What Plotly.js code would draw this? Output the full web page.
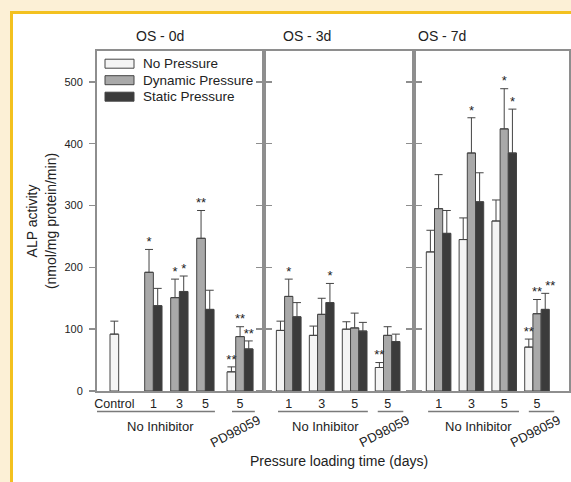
<!DOCTYPE html>
<html>
<head>
<meta charset="utf-8">
<script src="https://cdn.plot.ly/plotly-3.0.1.min.js"></script>
<style>
  html, body { margin:0; padding:0; background:#fcf0d6; width:571px; height:482px; overflow:hidden; }
  #frame { position:absolute; left:10px; top:11px; right:0; bottom:0; background:#ffffff;
           border-left:3px solid #f3c11f; border-top:3px solid #f3c11f; }
  #chart { position:absolute; left:0; top:0; width:571px; height:482px; }
</style>
</head>
<body>
<div id="frame"></div>
<div id="chart"></div>
<script>
// ---------------- DATA ----------------
const panelTitles = ['OS - 0d', 'OS - 3d', 'OS - 7d'];
const seriesNames = ['No Pressure', 'Dynamic Pressure', 'Static Pressure'];

const cats0d = ['Control', '1', '3', '5', '5'];
const cats3d = ['1', '3', '5', '5'];
const cats7d = ['1', '3', '5', '5'];

// OS - 0d
const noPressure0d    = [92, null, null, null, 31];
const dynamic0d       = [null, 192, 151, 247, 88];
const static0d        = [null, 138, 161, 132, 68];
const noPressureErr0d = [21, null, null, null, 8];
const dynamicErr0d    = [null, 37, 30, 45, 16];
const staticErr0d     = [null, 28, 25, 31, 13];
const noPressureSig0d = ['', '', '', '', '**'];
const dynamicSig0d    = ['', '*', '*', '**', '**'];
const staticSig0d     = ['', '', '*', '', '**'];

// OS - 3d
const noPressure3d    = [98, 90, 100, 38];
const dynamic3d       = [153, 124, 102, 90];
const static3d        = [120, 143, 97, 80];
const noPressureErr3d = [15, 15, 12, 8];
const dynamicErr3d    = [28, 26, 24, 14];
const staticErr3d     = [23, 31, 14, 12];
const noPressureSig3d = ['', '', '', '**'];
const dynamicSig3d    = ['*', '', '', ''];
const staticSig3d     = ['', '*', '', ''];

// OS - 7d
const noPressure7d    = [225, 245, 275, 71];
const dynamic7d       = [295, 385, 424, 125];
const static7d        = [255, 306, 385, 132];
const noPressureErr7d = [35, 35, 34, 13];
const dynamicErr7d    = [55, 57, 65, 23];
const staticErr7d     = [37, 47, 71, 26];
const noPressureSig7d = ['', '', '', '**'];
const dynamicSig7d    = ['', '*', '*', '**'];
const staticSig7d     = ['', '', '*', '**'];

const yTicks = [0, 100, 200, 300, 400, 500];
const groupLabelNI = 'No Inhibitor';
const groupLabelPD = 'PD98059';

// ---------------- LAYOUT CONFIG ----------------
const W = 571, H = 482;
const M = { l: 97, r: 2, t: 51, b: 91 };
const plotW = W - M.l - M.r, plotH = H - M.t - M.b;
const pxX = px => (px - M.l) / plotW;
const pxY = py => (H - M.b - py) / plotH;
const YMAX = 550;
const pxPerUnitY = plotH / YMAX;

const fills = ['#f4f4f4', '#a9a9a9', '#3b3b3b'];
const outline = '#444444';
const axisColor = '#8e8e8e';
const textColor = '#222222';
const FONT = 'Liberation Sans, Arial, Helvetica, sans-serif';
const offsets = [-1.5, -0.5, 0.5];

const panels = [
  { cats: cats0d, vals: [noPressure0d, dynamic0d, static0d],
    errs: [noPressureErr0d, dynamicErr0d, staticErr0d],
    sigs: [noPressureSig0d, dynamicSig0d, staticSig0d],
    pos: [3, 6, 9, 12, 16.5], range: [0, 19.26], dom: [pxX(97), pxX(264)],
    ni: [-0.58, 13.6], niX: 7.27, pd: [15.57, 18.2], pdX: 15.9, titlePx: 160 },
  { cats: cats3d, vals: [noPressure3d, dynamic3d, static3d],
    errs: [noPressureErr3d, dynamicErr3d, staticErr3d],
    sigs: [noPressureSig3d, dynamicSig3d, staticSig3d],
    pos: [3, 7, 11, 15], range: [0, 18.2], dom: [pxX(264), pxX(414)],
    ni: [1.7, 12.6], niX: 7.5, pd: [13.8, 16.9], pdX: 14.5, titlePx: 307 },
  { cats: cats7d, vals: [noPressure7d, dynamic7d, static7d],
    errs: [noPressureErr7d, dynamicErr7d, staticErr7d],
    sigs: [noPressureSig7d, dynamicSig7d, staticSig7d],
    pos: [3, 7, 11, 15], range: [0, 18.9], dom: [pxX(414), pxX(569)],
    ni: [1.72, 12.8], niX: 7.9, pd: [14.0, 17.1], pdX: 14.7, titlePx: 442 }
];

const traces = [];
const layout = {
  width: W, height: H, margin: M,
  paper_bgcolor: 'rgba(0,0,0,0)', plot_bgcolor: 'rgba(0,0,0,0)',
  barmode: 'overlay', showlegend: false,
  font: { family: FONT, color: textColor, size: 12 },
  annotations: [], shapes: []
};

panels.forEach((p, i) => {
  const sfx = i === 0 ? '' : String(i + 1);
  const xa = 'x' + sfx, ya = 'y' + sfx;
  const tops = p.vals.map((vals, s) => vals.map((v, k) => v == null ? null : v + p.errs[s][k]));
  p.vals.forEach((vals, s) => {
    traces.push({
      type: 'bar', name: seriesNames[s], x: p.pos, y: vals,
      offset: offsets[s], width: 1, xaxis: xa, yaxis: ya,
      marker: { color: fills[s], line: { color: outline, width: 1 } },
      error_y: { type: 'data', symmetric: false, array: p.errs[s],
                 arrayminus: p.errs[s].map(() => 0),
                 color: outline, thickness: 1, width: 4 },
      hoverinfo: 'skip'
    });
    // significance marks; nudge a double mark right when the neighbour's mark sits close above it
    const tpos = p.sigs[s].map((t, k) => {
      if (s === 2 && t.length > 1 && p.sigs[1][k].length > 1 &&
          Math.abs(tops[1][k] - tops[2][k]) * pxPerUnitY < 12) return 'top right';
      return 'top center';
    });
    traces.push({
      type: 'scatter', mode: 'text', xaxis: xa, yaxis: ya,
      x: p.pos.map(c => c + offsets[s] + 0.5),
      y: tops[s],
      text: p.sigs[s], textposition: tpos,
      textfont: { size: 13, color: textColor, family: FONT },
      cliponaxis: false, hoverinfo: 'skip'
    });
  });
  // tick positions: centre of the bars present in each group
  const tickvals = p.pos.map((c, k) => {
    const cs = [];
    p.vals.forEach((vals, s) => { if (vals[k] != null) cs.push(c + offsets[s] + 0.5); });
    return cs.reduce((a, b) => a + b, 0) / cs.length;
  });
  layout['xaxis' + sfx] = {
    domain: p.dom, range: p.range, anchor: ya,
    showline: true, linecolor: axisColor, linewidth: 2, mirror: true,
    ticks: '', tickvals: tickvals, ticktext: p.cats,
    tickfont: { size: 12.5, color: textColor, family: FONT },
    showgrid: false, zeroline: false, fixedrange: true
  };
  layout['yaxis' + sfx] = {
    domain: [0, 1], range: [0, YMAX], anchor: xa,
    showline: true, linecolor: axisColor, linewidth: 2, mirror: 'ticks',
    ticks: 'outside', ticklen: 6, tickwidth: 1.5, tickcolor: axisColor,
    tickvals: yTicks, showticklabels: i === 0, ticklabelstandoff: 4,
    tickfont: { size: 11, color: textColor, family: FONT },
    showgrid: false, zeroline: false, fixedrange: true
  };
  // group brackets
  [p.ni, p.pd].forEach(seg => layout.shapes.push({
    type: 'line', xref: xa, yref: 'paper', x0: seg[0], x1: seg[1],
    y0: pxY(411.5), y1: pxY(411.5), line: { color: '#7a7a7a', width: 1.5 }
  }));
  layout.annotations.push({
    xref: xa, yref: 'paper', x: p.niX, y: pxY(426), text: groupLabelNI,
    showarrow: false, font: { size: 13, color: textColor, family: FONT },
    xanchor: 'center', yanchor: 'middle'
  });
  layout.annotations.push({
    xref: xa, yref: 'paper', x: p.pdX, y: pxY(431), text: groupLabelPD,
    showarrow: false, textangle: -27, font: { size: 13, color: textColor, family: FONT },
    xanchor: 'center', yanchor: 'middle'
  });
  // panel title
  layout.annotations.push({
    xref: 'paper', yref: 'paper', x: pxX(p.titlePx), y: pxY(36), text: panelTitles[i],
    showarrow: false, font: { size: 14, color: textColor, family: FONT },
    xanchor: 'center', yanchor: 'middle'
  });
});

layout.yaxis.title = { text: 'ALP activity<br>(nmol/mg protein/min)',
  font: { size: 14, color: textColor, family: FONT }, standoff: 5 };
layout.xaxis2.title = { text: 'Pressure loading time (days)',
  font: { size: 14, color: textColor, family: FONT }, standoff: 46 };

// custom legend (wide swatches, inside first panel)
const legendRows = [63.7, 80.2, 96.7];
seriesNames.forEach((name, s) => {
  layout.shapes.push({
    type: 'rect', xref: 'paper', yref: 'paper',
    x0: pxX(105), x1: pxX(134), y0: pxY(legendRows[s] + 4.5), y1: pxY(legendRows[s] - 4.5),
    fillcolor: fills[s], line: { color: outline, width: 1 }
  });
  layout.annotations.push({
    xref: 'paper', yref: 'paper', x: pxX(141), y: pxY(legendRows[s]), text: name,
    showarrow: false, xanchor: 'left', yanchor: 'middle',
    font: { size: 13.5, color: textColor, family: FONT }
  });
});

Plotly.newPlot('chart', traces, layout, { displayModeBar: false, staticPlot: true });
</script>
</body>
</html>
